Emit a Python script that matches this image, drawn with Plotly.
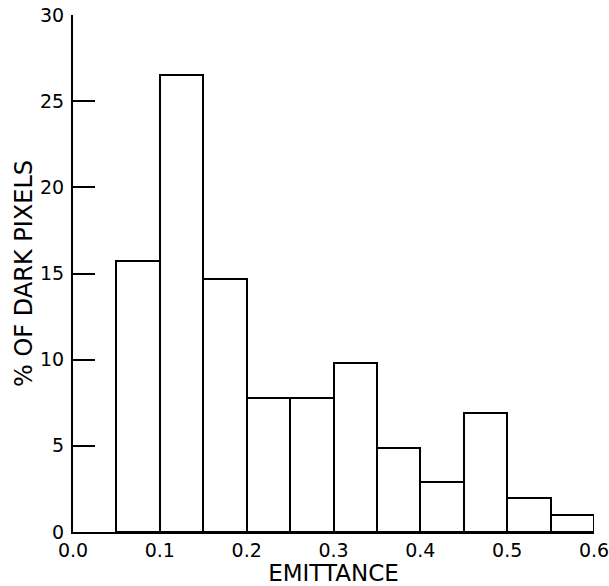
import plotly.graph_objects as go

bin_edges = [0.05, 0.10, 0.15, 0.20, 0.25, 0.30, 0.35, 0.40, 0.45, 0.50, 0.55, 0.60]
percent_dark = [15.7, 26.5, 14.7, 7.8, 7.8, 9.8, 4.9, 2.9, 6.9, 2.0, 1.0]
x_ticks = [0.0, 0.1, 0.2, 0.3, 0.4, 0.5, 0.6]
x_tick_labels = ["0.0", "0.1", "0.2", "0.3", "0.4", "0.5", "0.6"]
y_ticks = [0, 5, 10, 15, 20, 25, 30]

centers = [(a + b) / 2 for a, b in zip(bin_edges[:-1], bin_edges[1:])]
widths = [b - a for a, b in zip(bin_edges[:-1], bin_edges[1:])]

fig = go.Figure(go.Bar(
    x=centers, y=percent_dark, width=widths,
    marker=dict(color="white", line=dict(color="black", width=2)),
    showlegend=False,
))

font = dict(family="DejaVu Sans", color="black")
fig.update_layout(
    width=609, height=586,
    margin=dict(l=73, r=15, t=15, b=54),
    paper_bgcolor="white", plot_bgcolor="white",
    font=dict(**font, size=19),
    bargap=0,
)
fig.update_xaxes(
    range=[0, 0.6], tickvals=x_ticks, ticktext=x_tick_labels,
    showgrid=False, zeroline=False, showline=True, linecolor="black", linewidth=2,
    ticks="", tickfont=dict(**font, size=19), automargin=False,
    ticklabeloverflow="allow",
    title=dict(text="EMITTANCE", font=dict(**font, size=23), standoff=16),
)
fig.update_yaxes(
    range=[0, 30], tickvals=y_ticks,
    showgrid=False, zeroline=False, showline=True, linecolor="black", linewidth=2,
    ticks="inside", ticklen=22, tickwidth=2, tickcolor="black",
    tickfont=dict(**font, size=19), ticklabelstandoff=3, automargin=False,
    ticklabeloverflow="allow",
    title=dict(text="% OF DARK PIXELS", font=dict(**font, size=24), standoff=1),
)
fig.write_html("out.html", config={"displayModeBar": False},
               post_script="document.body.style.margin='0';")
